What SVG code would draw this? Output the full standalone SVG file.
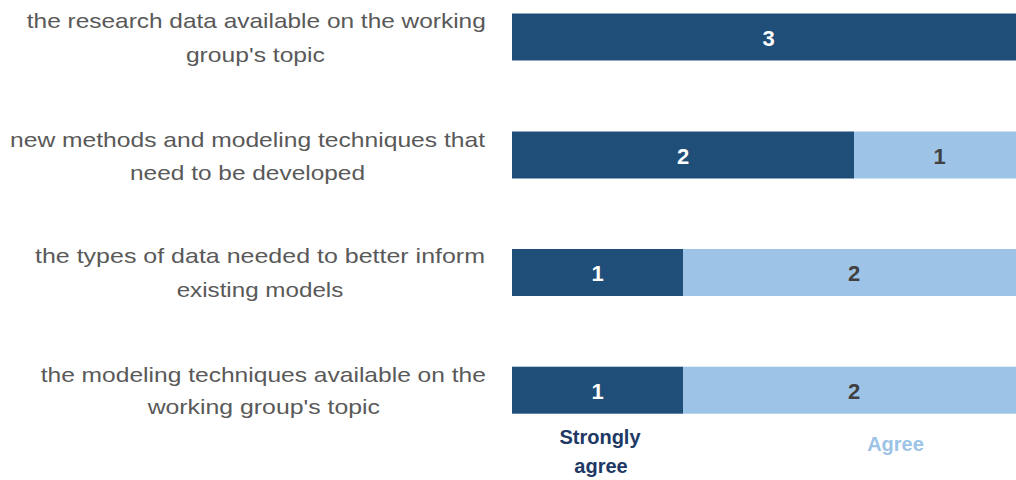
<svg xmlns="http://www.w3.org/2000/svg" width="1016" height="480" viewBox="0 0 1016 480">
<style>
.lbl{font-family:"Liberation Sans",Arial,sans-serif;font-size:21px;fill:#595959;text-anchor:middle}
.num{font-family:"Liberation Sans",Arial,sans-serif;font-size:22px;font-weight:bold;text-anchor:middle}
.w{fill:#FFFFFF}
.g{fill:#404040}
.dk{fill:#1F4E79}
.lt{fill:#9DC3E6}
.leg{font-family:"Liberation Sans",Arial,sans-serif;font-size:20px;font-weight:bold;text-anchor:middle}
</style>
<rect width="1016" height="480" fill="#FFFFFF"/>
<g id="labels">
<text class="lbl" x="256.3" y="28.3" textLength="459" lengthAdjust="spacingAndGlyphs">the research data available on the working</text>
<text class="lbl" x="255.4" y="61.7" textLength="139" lengthAdjust="spacingAndGlyphs">group's topic</text>
<text class="lbl" x="247.5" y="146.7" textLength="475" lengthAdjust="spacingAndGlyphs">new methods and modeling techniques that</text>
<text class="lbl" x="247.5" y="180" textLength="235" lengthAdjust="spacingAndGlyphs">need to be developed</text>
<text class="lbl" x="260" y="263.3" textLength="450" lengthAdjust="spacingAndGlyphs">the types of data needed to better inform</text>
<text class="lbl" x="260" y="296.7" textLength="166.7" lengthAdjust="spacingAndGlyphs">existing models</text>
<text class="lbl" x="263.3" y="381.7" textLength="445.3" lengthAdjust="spacingAndGlyphs">the modeling techniques available on the</text>
<text class="lbl" x="263.8" y="414.3" textLength="232.3" lengthAdjust="spacingAndGlyphs">working group's topic</text>
</g>
<g id="bar1">
<rect class="dk" x="512" y="13.5" width="513" height="47"/>
<text class="num w" x="768.5" y="46">3</text>
</g>
<g id="bar2">
<rect class="dk" x="512" y="131.5" width="342" height="47"/>
<rect class="lt" x="854" y="131.5" width="171" height="47"/>
<text class="num w" x="683" y="163.5">2</text>
<text class="num g" x="939.5" y="163.5">1</text>
</g>
<g id="bar3">
<rect class="dk" x="512" y="249" width="171" height="47"/>
<rect class="lt" x="683" y="249" width="342" height="47"/>
<text class="num w" x="597.5" y="281">1</text>
<text class="num g" x="854" y="281">2</text>
</g>
<g id="bar4">
<rect class="dk" x="512" y="366.7" width="171" height="47"/>
<rect class="lt" x="683" y="366.7" width="342" height="47"/>
<text class="num w" x="597.5" y="398.5">1</text>
<text class="num g" x="854" y="398.5">2</text>
</g>
<g id="legend">
<text class="leg" x="600" y="444.3" fill="#203864">Strongly</text>
<text class="leg" x="601" y="473.3" fill="#203864">agree</text>
<text class="leg" x="895.5" y="451" fill="#9DC3E6">Agree</text>
</g>
<g id="connectors"></g>
</svg>
